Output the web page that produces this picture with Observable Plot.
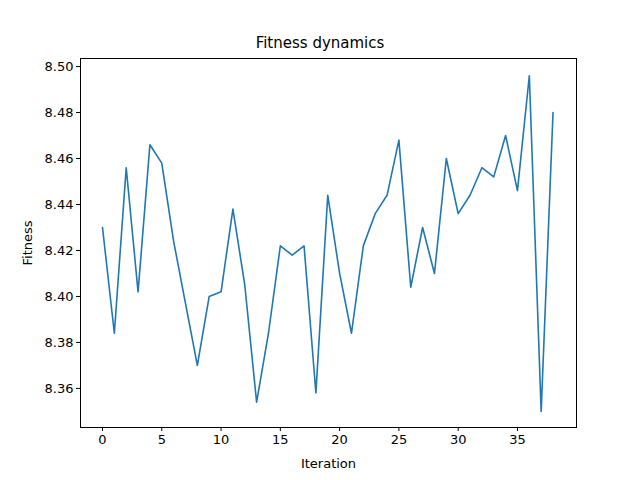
<!DOCTYPE html>
<html>
<head>
<meta charset="utf-8">
<script src="https://cdn.jsdelivr.net/npm/d3@7"></script>
<script src="https://cdn.jsdelivr.net/npm/@observablehq/plot@0.6"></script>
<style>
  body { margin: 0; background: #fff; font-family: "DejaVu Sans", sans-serif; }
  #title { width: 640px; text-align: center; font-size: 15px; line-height: 18px; padding-top: 34px; height: 17px; }
</style>
</head>
<body>
<div id="title">Fitness dynamics</div>
<div id="chart"></div>
<script>
const fitness = [8.430, 8.384, 8.456, 8.402, 8.466, 8.458, 8.424, 8.397, 8.370, 8.400,
  8.402, 8.438, 8.405, 8.354, 8.384, 8.422, 8.418, 8.422, 8.358, 8.444,
  8.410, 8.384, 8.422, 8.436, 8.444, 8.468, 8.404, 8.430, 8.410, 8.460,
  8.436, 8.444, 8.456, 8.452, 8.470, 8.446, 8.496, 8.350, 8.480];
const data = fitness.map((v, i) => ({iteration: i, fitness: v}));

let chart = Plot.plot({
  width: 640,
  height: 429,
  marginTop: 7,
  marginBottom: 53,
  marginLeft: 80,
  marginRight: 64,
  style: { fontSize: "13px", fontFamily: "DejaVu Sans, sans-serif", color: "#000" },
  x: { domain: [-1.855, 39.98], ticks: [0, 5, 10, 15, 20, 25, 30, 35], label: null },
  y: { domain: [8.343, 8.5035], ticks: [8.36, 8.38, 8.40, 8.42, 8.44, 8.46, 8.48, 8.50], tickFormat: d => d.toFixed(2), label: null },
  marks: [
    Plot.axisX({ ticks: [0, 5, 10, 15, 20, 25, 30, 35], tickSize: 4, tickPadding: 3, label: "Iteration", labelAnchor: "center", labelArrow: "none", labelOffset: 40 }),
    Plot.axisY({ ticks: [8.36, 8.38, 8.40, 8.42, 8.44, 8.46, 8.48, 8.50], tickFormat: d => d.toFixed(2), tickSize: 4, tickPadding: 3, label: "Fitness", labelAnchor: "center", labelArrow: "none", labelOffset: 58 }),
    Plot.line(data, { x: "iteration", y: "fitness", stroke: "#1f77b4", strokeWidth: 1.6 }),
    Plot.frame({ stroke: "#000", strokeWidth: 1 })
  ]
});
d3.select("#chart").append(() => chart);
</script>
</body>
</html>
